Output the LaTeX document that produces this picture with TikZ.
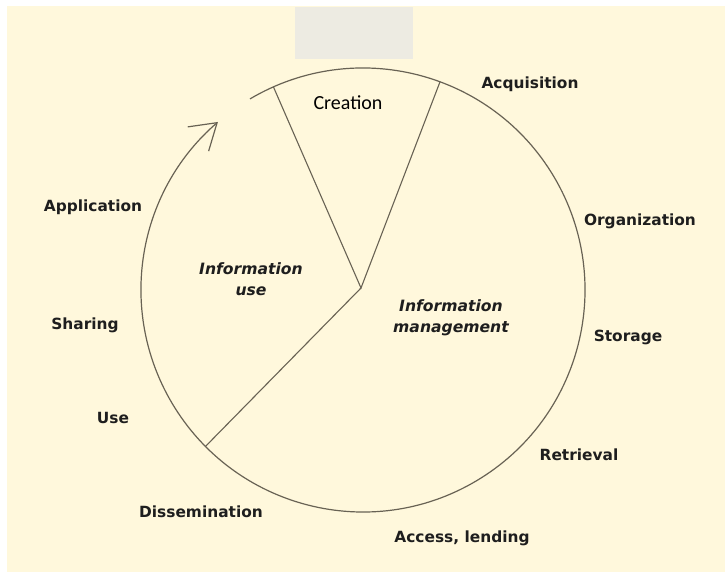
\documentclass[tikz,border=0pt]{standalone}
\usepackage{fontspec}
\setmainfont{DejaVu Sans}
\newfontfamily\calibrilike{Carlito}
\usetikzlibrary{arrows.meta}
\definecolor{paper}{RGB}{255,248,220}
\definecolor{panel}{RGB}{237,235,226}
\definecolor{ink}{RGB}{104,98,84}
\definecolor{txt}{RGB}{30,30,30}
\begin{document}
\begin{tikzpicture}[x=1pt,y=1pt,
  stage/.style={font=\fontsize{15.4}{18}\selectfont\bfseries, text=txt,
    inner sep=0pt, text height=11pt, text depth=0pt},
  phase/.style={font=\fontsize{15.6}{21.5}\selectfont\bfseries\itshape,
    text=txt, align=center, inner sep=0pt},
  rim/.style={draw=ink, line width=1.2pt},
  spoke/.style={draw=ink, line width=1.1pt}]
\useasboundingbox (0,0) rectangle (725,572);
% page and paper
\fill[white] (0,0) rectangle (725,572);
\fill[paper] (7,0) rectangle (725,566);
\fill[panel] (295,513) rectangle (413,565);

% cycle circle, open at the top left, ending in an arrow
\coordinate (c) at (363,282);
\coordinate (hub) at (361,284);
\path (c) ++(113.8:222) coordinate (crL)
      (c) ++(69.7:222)  coordinate (crR)
      (c) ++(224.8:222) coordinate (useB)
      (c) ++(120.6:222) coordinate (rimS);
\draw[rim, -{Straight Barb[length=25pt,width=32pt,line width=1.2pt]}]
  (rimS) arc[start angle=120.6, end angle=-229.2, radius=222];

% sector boundaries
\draw[spoke] (crL) -- (hub) -- (crR);
\draw[spoke] (hub) -- (useB);

% sector titles
\node[font=\calibrilike\fontsize{20}{24}\selectfont, text=black, inner sep=0pt] (creation) at (348,469) {Creation};
\node[phase] (infouse) at (251,293) {Information\\use};
\node[phase] (infomgmt) at (451,254) {Information\\management};

% stages around the cycle
\node[stage] (acq)  at (530,489) {Acquisition};
\node[stage] (org)  at (640,352) {Organization};
\node[stage] (stor) at (628,236) {Storage};
\node[stage] (retr) at (579,117) {Retrieval};
\node[stage] (acc)  at (462,35)  {Access, lending};
\node[stage] (diss) at (201,60)  {Dissemination};
\node[stage] (use)  at (113,154) {Use};
\node[stage] (shar) at (85,248)  {Sharing};
\node[stage] (appl) at (93,366)  {Application};
\end{tikzpicture}
\end{document}
